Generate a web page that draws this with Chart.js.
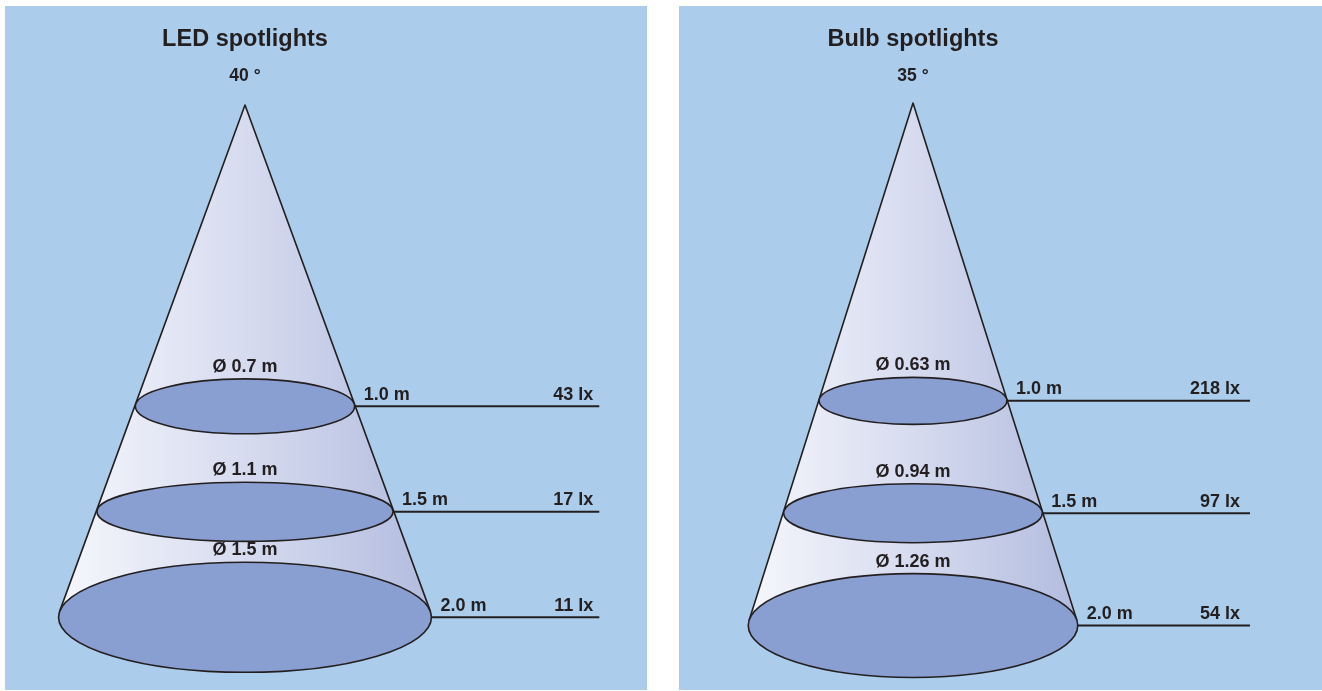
<!DOCTYPE html>
<html><head><meta charset="utf-8">
<script src="https://cdn.jsdelivr.net/npm/chart.js@4/dist/chart.umd.min.js"></script>
<style>
html,body{margin:0;padding:0;background:#fff;width:1322px;height:691px;overflow:hidden}
.panel{position:absolute;background:#abcdeb}
#p1{left:5px;top:6px;width:642px;height:684px}
#p2{left:679px;top:6px;width:643px;height:684px}
canvas{display:block}
</style></head><body>
<div class="panel" id="p1"><canvas id="c1" width="642" height="684"></canvas></div>
<div class="panel" id="p2"><canvas id="c2" width="643" height="684"></canvas></div>
<script>
// ---------- data ----------
const distances = [1.0, 1.5, 2.0];          // distance from lamp (m)
const ledTitle = 'LED spotlights';
const ledBeamAngle = 40;                     // degrees
const ledDiameters = [0.7, 1.1, 1.5];        // beam diameter (m)
const ledLux = [43, 17, 11];                 // illuminance (lx)
const bulbTitle = 'Bulb spotlights';
const bulbBeamAngle = 35;
const bulbDiameters = [0.63, 0.94, 1.26];
const bulbLux = [218, 97, 54];

// ---------- styles / layout ----------
const INK = '#231f20';
const ELLIPSE_FILL = '#8a9fd1';
const FONT = '"Liberation Sans", Arial, Helvetica, sans-serif';

const layouts = {
  led:  {w: 642, h: 684, pxPerM: 211,   refY: 505.8, apexX: 240, apexY: 99, leaderEndX: 594.3, luxGap: 6,
         tilt: [0.25, 0.20, 0.295]},
  bulb: {w: 643, h: 684, pxPerM: 224.7, refY: 507.2, apexX: 234, apexY: 97, leaderEndX: 571,   luxGap: 10,
         tilt: [0.25, 0.228, 0.315]}
};

const conePlugin = {
  id: 'cone',
  afterDatasetsDraw(chart) {
    const o = chart.options.plugins.cone;
    const ctx = chart.ctx;
    const xs = chart.scales.x, ys = chart.scales.y;
    const meta = chart.getDatasetMeta(0);
    const ax = xs.getPixelForValue(0);
    const ay = ys.getPixelForValue(o.apexAt);
    const t = Math.tan(o.angle / 2 * Math.PI / 180);
    const lv = meta.data.map((p, i) => {
      const rx = (p.y - ay) * t;
      return {cx: ax, cy: p.y, rx: rx, ry: rx * o.tilt[i]};
    });
    const b = lv[lv.length - 1];
    const s = -b.ry / (b.cy - ay);
    const c = Math.sqrt(1 - s * s);
    const lx = b.cx - b.rx * c, rxp = b.cx + b.rx * c, ty = b.cy + b.ry * s;
    const phiL = Math.PI - Math.asin(s), phiR = Math.asin(s);

    ctx.save();
    // cone body
    const g = ctx.createLinearGradient(b.cx - b.rx, 0, b.cx + b.rx, 0);
    g.addColorStop(0, '#f6f7fc');
    g.addColorStop(0.5, '#d6dbef');
    g.addColorStop(1, '#b3bcdf');
    ctx.beginPath();
    ctx.moveTo(ax, ay);
    ctx.lineTo(lx, ty);
    ctx.ellipse(b.cx, b.cy, b.rx, b.ry, 0, phiL, phiR, true);
    ctx.closePath();
    ctx.fillStyle = g;
    ctx.fill();
    ctx.strokeStyle = INK;
    ctx.lineWidth = 1.6;
    ctx.lineJoin = 'round';
    ctx.beginPath();
    ctx.moveTo(lx, ty); ctx.lineTo(ax, ay); ctx.lineTo(rxp, ty);
    ctx.stroke();

    // ellipses
    lv.forEach(e => {
      ctx.beginPath();
      ctx.ellipse(e.cx, e.cy, e.rx, e.ry, 0, 0, Math.PI * 2);
      ctx.fillStyle = ELLIPSE_FILL;
      ctx.fill();
      ctx.lineWidth = 1.6;
      ctx.strokeStyle = INK;
      ctx.stroke();
    });

    // leader lines
    const endX = xs.getPixelForValue(o.leaderEnd);
    ctx.lineWidth = 2;
    lv.forEach(e => {
      ctx.beginPath();
      ctx.moveTo(e.cx + e.rx, e.cy);
      ctx.lineTo(endX, e.cy);
      ctx.stroke();
    });

    // texts
    ctx.fillStyle = INK;
    ctx.textBaseline = 'alphabetic';
    ctx.textAlign = 'center';
    ctx.font = 'bold 23.5px ' + FONT;
    ctx.fillText(o.title, ax, 39.7);
    ctx.font = 'bold 17.5px ' + FONT;
    ctx.fillText(o.angle + ' °', ax, 75);
    ctx.font = 'bold 18px ' + FONT;
    lv.forEach((e, i) => {
      ctx.textAlign = 'center';
      ctx.fillText('Ø ' + o.diameters[i] + ' m', e.cx, e.cy - e.ry - 7);
      ctx.textAlign = 'left';
      ctx.fillText(distances[i].toFixed(1) + ' m', e.cx + e.rx + 9, e.cy - 6.7);
      ctx.textAlign = 'right';
      ctx.fillText(o.lux[i] + ' lx', endX - o.luxGap, e.cy - 6.7);
    });
    ctx.restore();
  }
};

function makeChart(id, L, title, angle, diameters, lux) {
  const yMin = 1.5 - L.refY / L.pxPerM;
  const yMax = 1.5 + (L.h - L.refY) / L.pxPerM;
  const xMin = -L.apexX / L.pxPerM;
  const xMax = (L.w - L.apexX) / L.pxPerM;
  return new Chart(document.getElementById(id), {
    type: 'scatter',
    data: {datasets: [{data: distances.map(d => ({x: 0, y: d})), pointRadius: 0}]},
    options: {
      responsive: false, animation: false, events: [],
      layout: {padding: 0},
      scales: {
        x: {type: 'linear', display: false, min: xMin, max: xMax, bounds: 'data'},
        y: {type: 'linear', display: false, reverse: true, min: yMin, max: yMax, bounds: 'data'}
      },
      plugins: {
        legend: {display: false}, tooltip: {enabled: false},
        cone: {
          title: title, angle: angle, diameters: diameters, lux: lux, tilt: L.tilt,
          apexAt: yMin + L.apexY / L.pxPerM,
          leaderEnd: (L.leaderEndX - L.apexX) / L.pxPerM,
          luxGap: L.luxGap
        }
      }
    },
    plugins: [conePlugin]
  });
}

makeChart('c1', layouts.led, ledTitle, ledBeamAngle, ledDiameters, ledLux);
makeChart('c2', layouts.bulb, bulbTitle, bulbBeamAngle, bulbDiameters, bulbLux);
</script>
</body></html>
